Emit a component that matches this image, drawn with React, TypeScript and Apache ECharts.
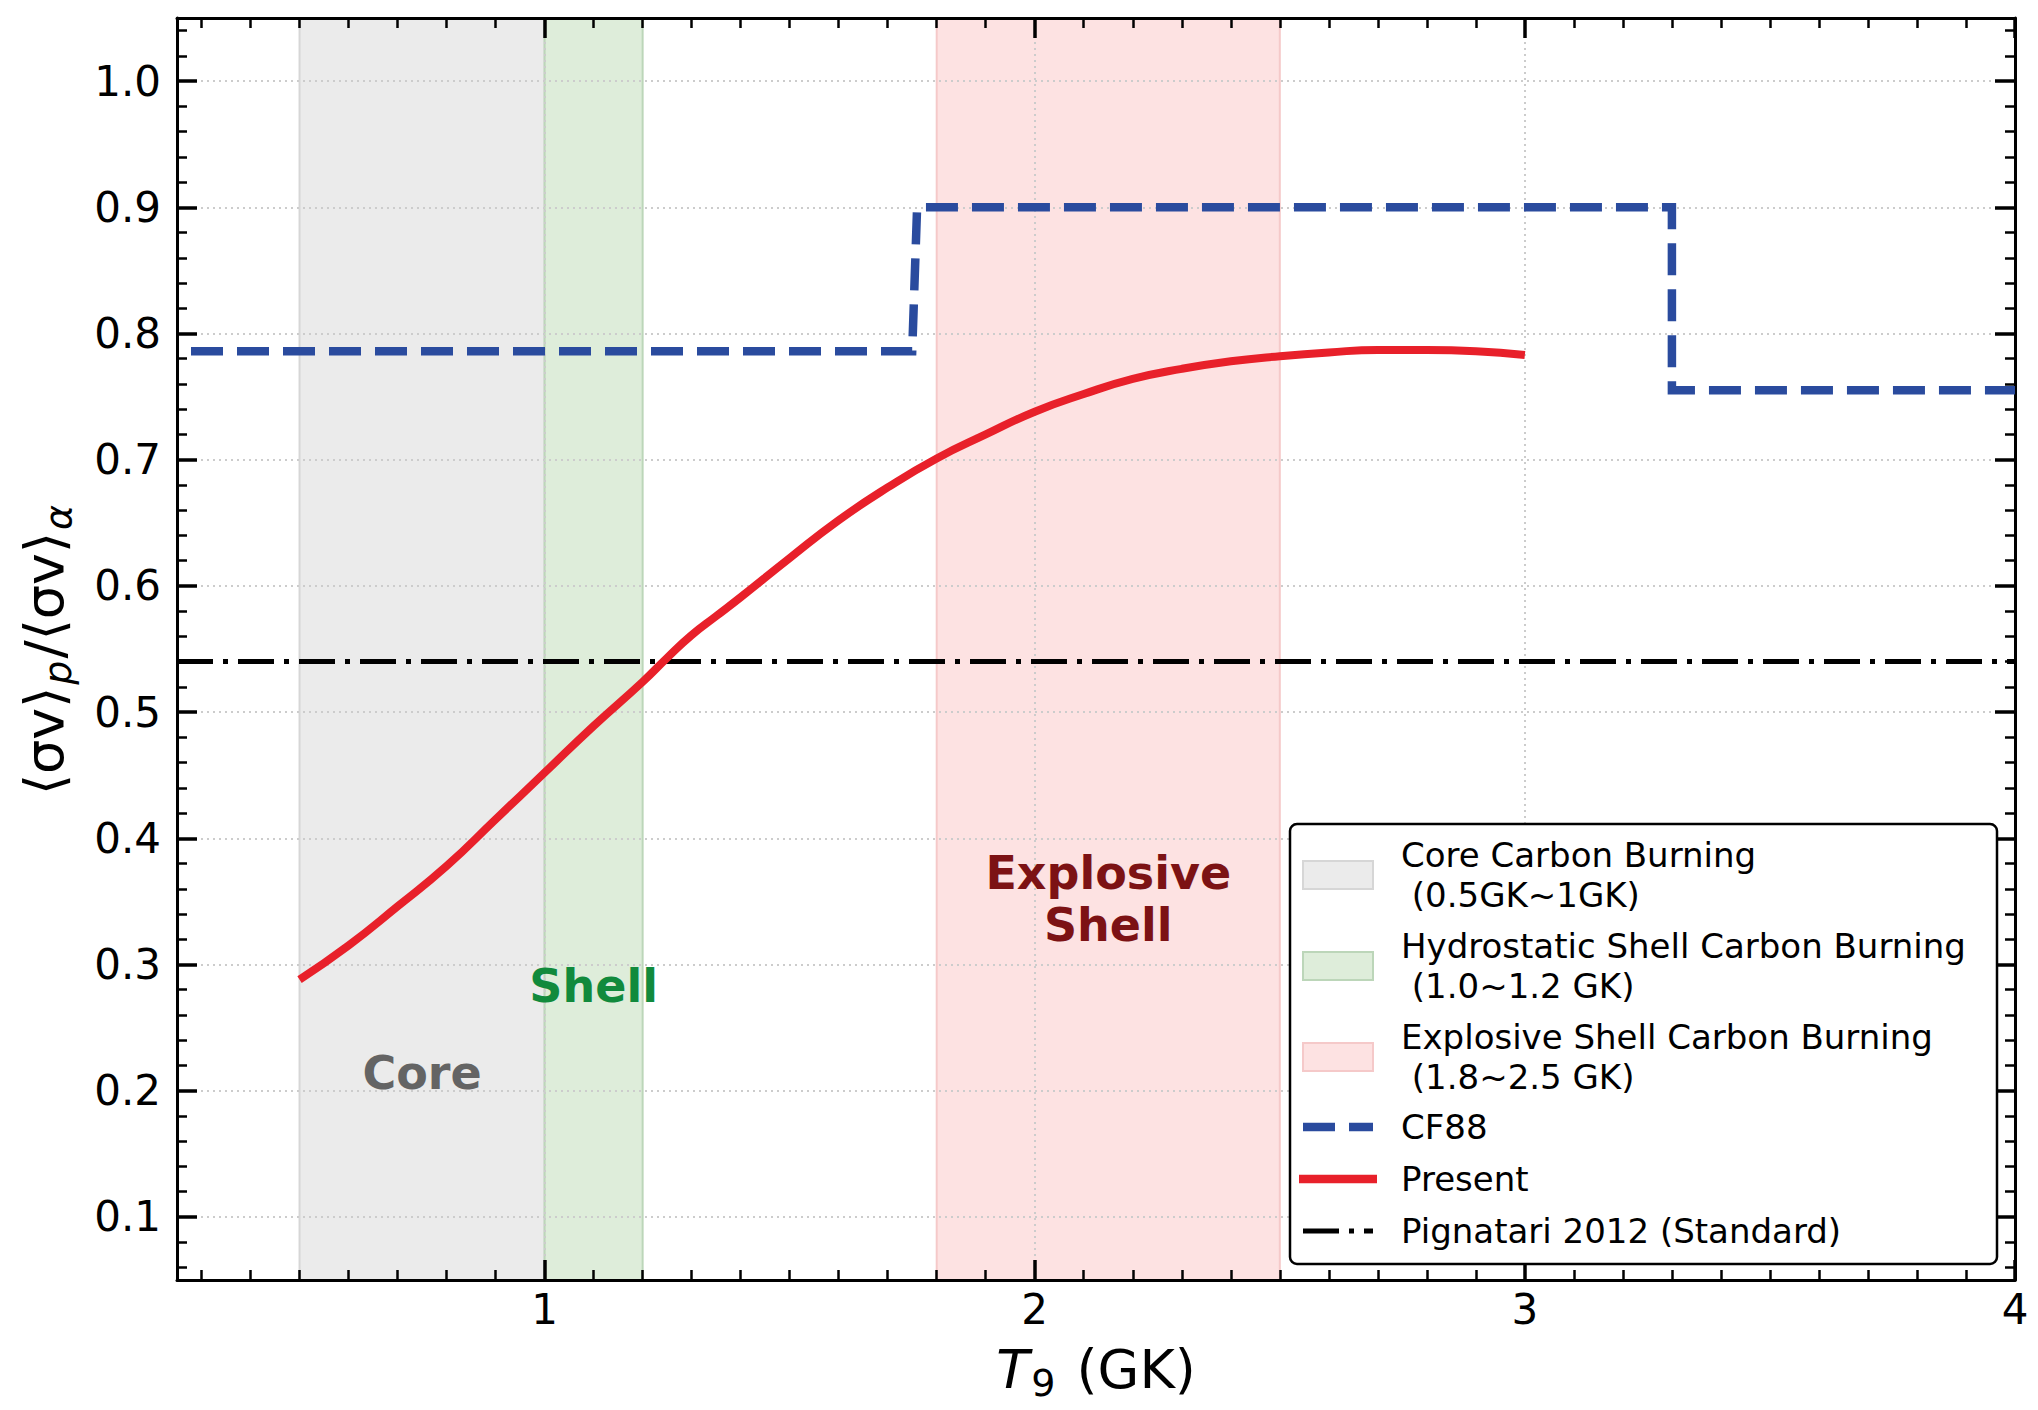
import React, { useEffect, useRef } from "react";
import * as echarts from "echarts";

const FONT = "DejaVu Sans";
const W = 2038;
const H = 1410;

// Axis ranges and tick labels
const X_MIN = 0.25;
const X_MAX = 4;
const Y_MIN = 0.05;
const Y_MAX = 1.05;
const xMajorTicks = [1, 2, 3, 4];
const yMajorTicks = [0.1, 0.2, 0.3, 0.4, 0.5, 0.6, 0.7, 0.8, 0.9, 1.0];
const xMinorTicks: number[] = [];
for (let i = 3; i <= 39; i++) if (i % 10 !== 0) xMinorTicks.push(i / 10);
const yMinorTicks: number[] = [];
for (let i = 3; i <= 52; i++) if (i % 5 !== 0) yMinorTicks.push(i / 50);

// Burning regions (T9 ranges)
const bandStart = [0.5, 1.0, 1.8];
const bandEnd = [1.0, 1.2, 2.5];
const bandFill = ["#ebebeb", "#deedda", "#fde2e2"];
const bandEdge = ["#d6d6d6", "#bcd6b9", "#f5c9c9"];

// CF88
const cf88T = [0.25, 1.75, 1.76, 3.3, 3.3, 4.0];
const cf88Ratio = [0.786, 0.786, 0.9, 0.9, 0.755, 0.755];

// Present
const presentT = [0.5, 0.6, 0.7, 0.8, 0.9, 1.0, 1.1, 1.2, 1.25, 1.3, 1.35, 1.4, 1.5, 1.6, 1.7, 1.8, 1.9, 2.0, 2.1, 2.2, 2.3, 2.4, 2.5, 2.6, 2.7, 2.8, 2.9, 3.0];
const presentRatio = [0.288, 0.315, 0.346, 0.378, 0.415, 0.452, 0.489, 0.524, 0.543, 0.561, 0.576, 0.591, 0.622, 0.652, 0.678, 0.701, 0.72, 0.738, 0.752, 0.764, 0.772, 0.778, 0.782, 0.785, 0.787, 0.787, 0.786, 0.783];

// Pignatari 2012 (Standard)
const pignatariT = [0.25, 4.0];
const pignatariRatio = [0.54, 0.54];

// In-plot annotations
const annotationText = ["Core", "Shell", "Explosive\nShell"];
const annotationT = [0.75, 1.1, 2.15];
const annotationY = [0.214, 0.283, 0.352];
const annotationColor = ["#646464", "#118a3c", "#7c1214"];

// Legend
const legendLabels = [
  "Core Carbon Burning\n (0.5GK~1GK)",
  "Hydrostatic Shell Carbon Burning\n (1.0~1.2 GK)",
  "Explosive Shell Carbon Burning\n (1.8~2.5 GK)",
  "CF88",
  "Present",
  "Pignatari 2012 (Standard)",
];

const BLUE = "#2a4b9e";
const RED = "#e8202a";
const BLACK = "#000000";

const tickColor = "#000";

function makeXAxis(position: string, ticks: number[], major: boolean, main: boolean) {
  return {
    type: "value",
    min: X_MIN,
    max: X_MAX,
    position,
    axisLine: { show: major, onZero: false, lineStyle: { color: tickColor, width: 3 } },
    axisTick: {
      show: true,
      inside: true,
      length: major ? 20 : 10,
      customValues: ticks,
      lineStyle: { color: tickColor, width: major ? 3.5 : 2.5 },
    },
    axisLabel: main
      ? { show: true, customValues: ticks, fontSize: 42, fontFamily: FONT, color: "#000", margin: 8 }
      : { show: false },
    splitLine: main
      ? { show: true, lineStyle: { color: "#cccccc", width: 2, type: [2, 4] } }
      : { show: false },
    ...(main
      ? {
          name: "{i|T}{s|9}{n| (GK)}",
          nameLocation: "middle",
          nameGap: 56,
          nameTextStyle: {
            fontFamily: FONT,
            fontSize: 54,
            color: "#000",
            rich: {
              i: { fontFamily: FONT, fontSize: 54, fontStyle: "italic", color: "#000" },
              s: { fontFamily: FONT, fontSize: 38, color: "#000", padding: [28, 4, 0, 2] },
              n: { fontFamily: FONT, fontSize: 54, color: "#000" },
            },
          },
        }
      : {}),
  };
}

function makeYAxis(position: string, ticks: number[], major: boolean, main: boolean) {
  return {
    type: "value",
    min: Y_MIN,
    max: Y_MAX,
    position,
    axisLine: { show: major, onZero: false, lineStyle: { color: tickColor, width: 3 } },
    axisTick: {
      show: true,
      inside: true,
      length: major ? 20 : 10,
      customValues: ticks,
      lineStyle: { color: tickColor, width: major ? 3.5 : 2.5 },
    },
    axisLabel: main
      ? {
          show: true,
          customValues: ticks,
          fontSize: 42,
          fontFamily: FONT,
          color: "#000",
          margin: 16,
          formatter: (v: number) => v.toFixed(1),
        }
      : { show: false },
    splitLine: main
      ? { show: true, lineStyle: { color: "#cccccc", width: 2, type: [2, 4] } }
      : { show: false },
    ...(main
      ? {
          name: "{m|⟨σv⟩}{s|p}{m|/⟨σv⟩}{s|α}",
          nameLocation: "middle",
          nameGap: 100,
          nameRotate: 90,
          nameTextStyle: {
            fontFamily: FONT,
            fontSize: 54,
            color: "#000",
            rich: {
              m: { fontFamily: FONT, fontSize: 54, color: "#000" },
              s: { fontFamily: FONT, fontSize: 38, fontStyle: "italic", color: "#000", padding: [28, 2, 0, 2] },
            },
          },
        }
      : {}),
  };
}

function buildLegend() {
  const left = 1290;
  const top = 824;
  const elements: any[] = [
    {
      type: "rect",
      shape: { x: left, y: top, width: 707, height: 440, r: 7 },
      style: { fill: "#ffffff", stroke: "#000", lineWidth: 2.5 },
      z: 100,
    },
  ];
  const swX = 1303;
  const swW = 70;
  const textX = 1401;
  const rowY = [875, 966, 1057, 1127, 1179, 1231];
  for (let i = 0; i < 3; i++) {
    elements.push({
      type: "rect",
      shape: { x: swX, y: rowY[i] - 14, width: swW, height: 28 },
      style: { fill: bandFill[i], stroke: bandEdge[i], lineWidth: 2 },
      z: 101,
    });
  }
  elements.push({
    type: "line",
    shape: { x1: swX, y1: rowY[3], x2: swX + swW, y2: rowY[3] },
    style: { stroke: BLUE, lineWidth: 8.5, lineDash: [32, 14] },
    z: 101,
  });
  elements.push({
    type: "line",
    shape: { x1: swX - 4, y1: rowY[4], x2: swX + swW + 4, y2: rowY[4] },
    style: { stroke: RED, lineWidth: 8.5 },
    z: 101,
  });
  elements.push({
    type: "line",
    shape: { x1: swX, y1: rowY[5], x2: swX + swW, y2: rowY[5] },
    style: { stroke: BLACK, lineWidth: 5, lineDash: [36, 10, 5, 10] },
    z: 101,
  });
  legendLabels.forEach((lab, i) => {
    elements.push({
      type: "text",
      x: textX,
      y: rowY[i],
      style: {
        text: lab,
        fontFamily: FONT,
        fontSize: 34,
        lineHeight: 40,
        fill: "#000",
        align: "left",
        verticalAlign: "middle",
      },
      z: 102,
    });
  });
  return elements;
}

export default function App() {
  const ref = useRef<HTMLDivElement>(null);
  useEffect(() => {
    if (!ref.current) return;
    const chart = echarts.init(ref.current, undefined, { renderer: "svg", width: W, height: H });
    const option: any = {
      animation: false,
      backgroundColor: "#ffffff",
      textStyle: { fontFamily: FONT },
      grid: { left: 177, right: 23, top: 18, bottom: 130, containLabel: false },
      xAxis: [
        makeXAxis("bottom", xMajorTicks, true, true),
        makeXAxis("bottom", xMinorTicks, false, false),
        makeXAxis("top", xMajorTicks, true, false),
        makeXAxis("top", xMinorTicks, false, false),
      ],
      yAxis: [
        makeYAxis("left", yMajorTicks, true, true),
        makeYAxis("left", yMinorTicks, false, false),
        makeYAxis("right", yMajorTicks, true, false),
        makeYAxis("right", yMinorTicks, false, false),
      ],
      series: [
        {
          type: "custom",
          name: "regions",
          xAxisIndex: 0,
          yAxisIndex: 0,
          z: -1,
          silent: true,
          data: bandStart.map((s, i) => [s, bandEnd[i]]),
          encode: { x: [0, 1] },
          renderItem: (params: any, api: any) => {
            const i = params.dataIndex;
            const a = api.coord([api.value(0), Y_MAX]);
            const b = api.coord([api.value(1), Y_MIN]);
            return {
              type: "rect",
              shape: { x: a[0], y: a[1], width: b[0] - a[0], height: b[1] - a[1] },
              style: { fill: bandFill[i], stroke: bandEdge[i], lineWidth: 2 },
            };
          },
        },
        {
          type: "line",
          name: "CF88",
          xAxisIndex: 0,
          yAxisIndex: 0,
          data: cf88T.map((t, i) => [t, cf88Ratio[i]]),
          symbol: "none",
          z: 3,
          lineStyle: { color: BLUE, width: 8.5, type: [32, 14], dashOffset: 32, join: "miter" },
        },
        {
          type: "line",
          name: "Pignatari 2012 (Standard)",
          xAxisIndex: 0,
          yAxisIndex: 0,
          data: pignatariT.map((t, i) => [t, pignatariRatio[i]]),
          symbol: "none",
          z: 3,
          lineStyle: { color: BLACK, width: 5, type: [36, 10, 5, 10] },
        },
        {
          type: "line",
          name: "Present",
          xAxisIndex: 0,
          yAxisIndex: 0,
          data: presentT.map((t, i) => [t, presentRatio[i]]),
          symbol: "none",
          smooth: 0.5,
          z: 4,
          lineStyle: { color: RED, width: 8 },
        },
        {
          type: "custom",
          name: "annotations",
          xAxisIndex: 0,
          yAxisIndex: 0,
          z: 5,
          silent: true,
          data: annotationT.map((t, i) => [t, annotationY[i]]),
          renderItem: (params: any, api: any) => {
            const i = params.dataIndex;
            const p = api.coord([api.value(0), api.value(1)]);
            return {
              type: "text",
              x: p[0],
              y: p[1],
              style: {
                text: annotationText[i],
                fontFamily: FONT,
                fontSize: 46,
                fontWeight: "bold",
                lineHeight: 52,
                fill: annotationColor[i],
                align: "center",
                verticalAlign: "middle",
              },
            };
          },
        },
      ],
      graphic: buildLegend(),
    };
    chart.setOption(option);
    return () => chart.dispose();
  }, []);
  return (
    <div
      ref={ref}
      style={{ position: "fixed", left: 0, top: 0, width: W, height: H, background: "#fff" }}
    />
  );
}
